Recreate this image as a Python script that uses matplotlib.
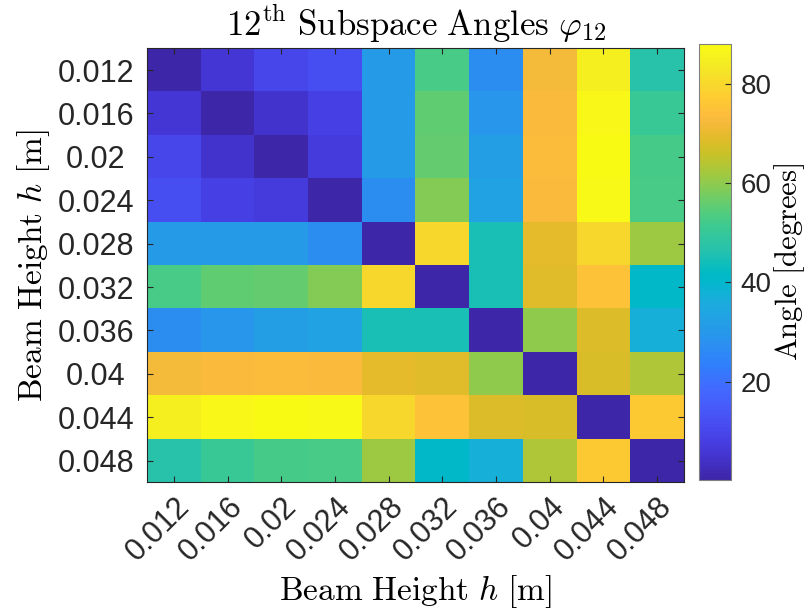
import numpy as np
import matplotlib
matplotlib.use('Agg')
from matplotlib import pyplot as plt
from matplotlib.colors import LinearSegmentedColormap

plt.rcParams['font.family'] = ['Liberation Sans', 'DejaVu Sans']
plt.rcParams['mathtext.fontset'] = 'cm'

# beam heights [m]
heights = ['0.012', '0.016', '0.02', '0.024', '0.028',
           '0.032', '0.036', '0.04', '0.044', '0.048']

# 12th subspace angle between models of each pair of beam heights [deg]
angles = [
    [0.2, 6.0, 10.0, 12.0, 31.0, 53.0, 27.0, 72.0, 85.0, 47.0],
    [6.0, 0.2, 5.0, 8.5, 31.0, 55.5, 29.5, 73.0, 87.0, 50.5],
    [10.0, 5.0, 0.2, 7.0, 31.0, 56.0, 32.0, 73.5, 88.0, 52.5],
    [12.0, 8.5, 7.0, 0.2, 27.0, 59.0, 33.0, 73.0, 87.5, 53.0],
    [31.0, 31.0, 31.0, 27.0, 0.2, 80.0, 45.0, 69.5, 80.0, 61.5],
    [53.0, 55.5, 56.0, 59.0, 80.0, 0.2, 45.0, 69.0, 75.0, 41.0],
    [27.0, 29.5, 32.0, 33.0, 45.0, 45.0, 0.2, 60.0, 68.5, 37.0],
    [72.0, 73.0, 73.5, 73.0, 69.5, 69.0, 60.0, 0.2, 68.0, 63.0],
    [85.0, 87.0, 88.0, 87.5, 80.0, 75.0, 68.5, 68.0, 0.2, 77.0],
    [47.0, 50.5, 52.5, 53.0, 61.5, 41.0, 37.0, 63.0, 77.0, 0.2],
]
cbar_ticks = [20, 40, 60, 80]

# parula colormap (64 entries)
parula_data = [
    [0.2422, 0.1504, 0.6603], [0.2504, 0.1650, 0.7076], [0.2578, 0.1818, 0.7511],
    [0.2647, 0.1978, 0.7952], [0.2706, 0.2147, 0.8364], [0.2751, 0.2342, 0.8710],
    [0.2783, 0.2559, 0.8991], [0.2803, 0.2782, 0.9221], [0.2813, 0.3006, 0.9414],
    [0.2810, 0.3228, 0.9579], [0.2795, 0.3447, 0.9717], [0.2760, 0.3667, 0.9829],
    [0.2699, 0.3892, 0.9906], [0.2602, 0.4123, 0.9952], [0.2440, 0.4358, 0.9988],
    [0.2206, 0.4603, 0.9973], [0.1963, 0.4847, 0.9892], [0.1834, 0.5074, 0.9798],
    [0.1786, 0.5289, 0.9682], [0.1764, 0.5499, 0.9520], [0.1687, 0.5703, 0.9359],
    [0.1540, 0.5902, 0.9218], [0.1460, 0.6091, 0.9079], [0.1380, 0.6276, 0.8973],
    [0.1248, 0.6459, 0.8883], [0.1113, 0.6635, 0.8763], [0.0952, 0.6798, 0.8598],
    [0.0689, 0.6948, 0.8394], [0.0297, 0.7082, 0.8163], [0.0036, 0.7203, 0.7917],
    [0.0067, 0.7312, 0.7660], [0.0433, 0.7411, 0.7394], [0.0964, 0.7500, 0.7120],
    [0.1408, 0.7584, 0.6842], [0.1717, 0.7670, 0.6554], [0.1938, 0.7758, 0.6251],
    [0.2161, 0.7843, 0.5923], [0.2470, 0.7918, 0.5567], [0.2906, 0.7973, 0.5188],
    [0.3406, 0.8008, 0.4789], [0.3909, 0.8029, 0.4354], [0.4456, 0.8024, 0.3909],
    [0.5044, 0.7993, 0.3480], [0.5616, 0.7942, 0.3045], [0.6174, 0.7876, 0.2612],
    [0.6720, 0.7793, 0.2227], [0.7242, 0.7698, 0.1910], [0.7738, 0.7598, 0.1646],
    [0.8203, 0.7498, 0.1535], [0.8634, 0.7406, 0.1596], [0.9035, 0.7330, 0.1774],
    [0.9393, 0.7288, 0.2100], [0.9728, 0.7298, 0.2394], [0.9956, 0.7434, 0.2371],
    [0.9970, 0.7659, 0.2199], [0.9952, 0.7893, 0.2028], [0.9892, 0.8136, 0.1885],
    [0.9786, 0.8386, 0.1766], [0.9676, 0.8639, 0.1643], [0.9610, 0.8890, 0.1537],
    [0.9597, 0.9135, 0.1423], [0.9628, 0.9373, 0.1265], [0.9691, 0.9606, 0.1064],
    [0.9769, 0.9839, 0.0805]]
parula = LinearSegmentedColormap.from_list('parula', parula_data)

edge = (0.15, 0.15, 0.15)

fig = plt.figure(figsize=(8.11, 6.16), dpi=100)
ax = fig.add_axes([0.1816, 0.2170, 0.6618, 0.7045])
cax = fig.add_axes([0.8623, 0.2208, 0.0391, 0.7073])

data = np.array(angles)
im = ax.imshow(data, cmap=parula, aspect='auto',
               vmin=data.min(), vmax=data.max(), interpolation='nearest')

n = len(heights)
ax.set_xticks(range(n))
ax.set_yticks(range(n))
ax.set_xticklabels(heights, rotation=45, ha='right', rotation_mode='anchor')
ax.set_yticklabels(heights)
ax.tick_params(axis='both', which='major', direction='in', length=4,
               width=0.8, color=edge, labelcolor=edge,
               labelsize=22, top=True, right=True)
ax.tick_params(axis='x', pad=7)
ax.tick_params(axis='y', pad=37)
for lab in ax.get_yticklabels():
    lab.set_horizontalalignment('center')
for s in ax.spines.values():
    s.set_color(edge)
    s.set_linewidth(0.8)

ax.set_title(r'$\mathrm{12^{th}\ Subspace\ Angles}\ \varphi_{12}$',
             fontsize=25, pad=9)
ax.set_xlabel(r'$\mathrm{Beam\ Height}\ h\ \mathrm{[m]}$', fontsize=24,
              labelpad=4)
ax.set_ylabel(r'$\mathrm{Beam\ Height}\ h\ \mathrm{[m]}$', fontsize=24,
              labelpad=4)

cb = fig.colorbar(im, cax=cax)
cb.set_ticks(cbar_ticks)
cb.ax.tick_params(direction='in', length=4, width=0.8, color=edge,
                  labelcolor=edge, labelsize=20, pad=7)
cb.outline.set_edgecolor((0.5, 0.5, 0.5))
cb.outline.set_linewidth(0.8)
cb.set_label(r'$\mathrm{Angle\ [degrees]}$', fontsize=22, labelpad=0)

fig.savefig('out.png', dpi=100)
